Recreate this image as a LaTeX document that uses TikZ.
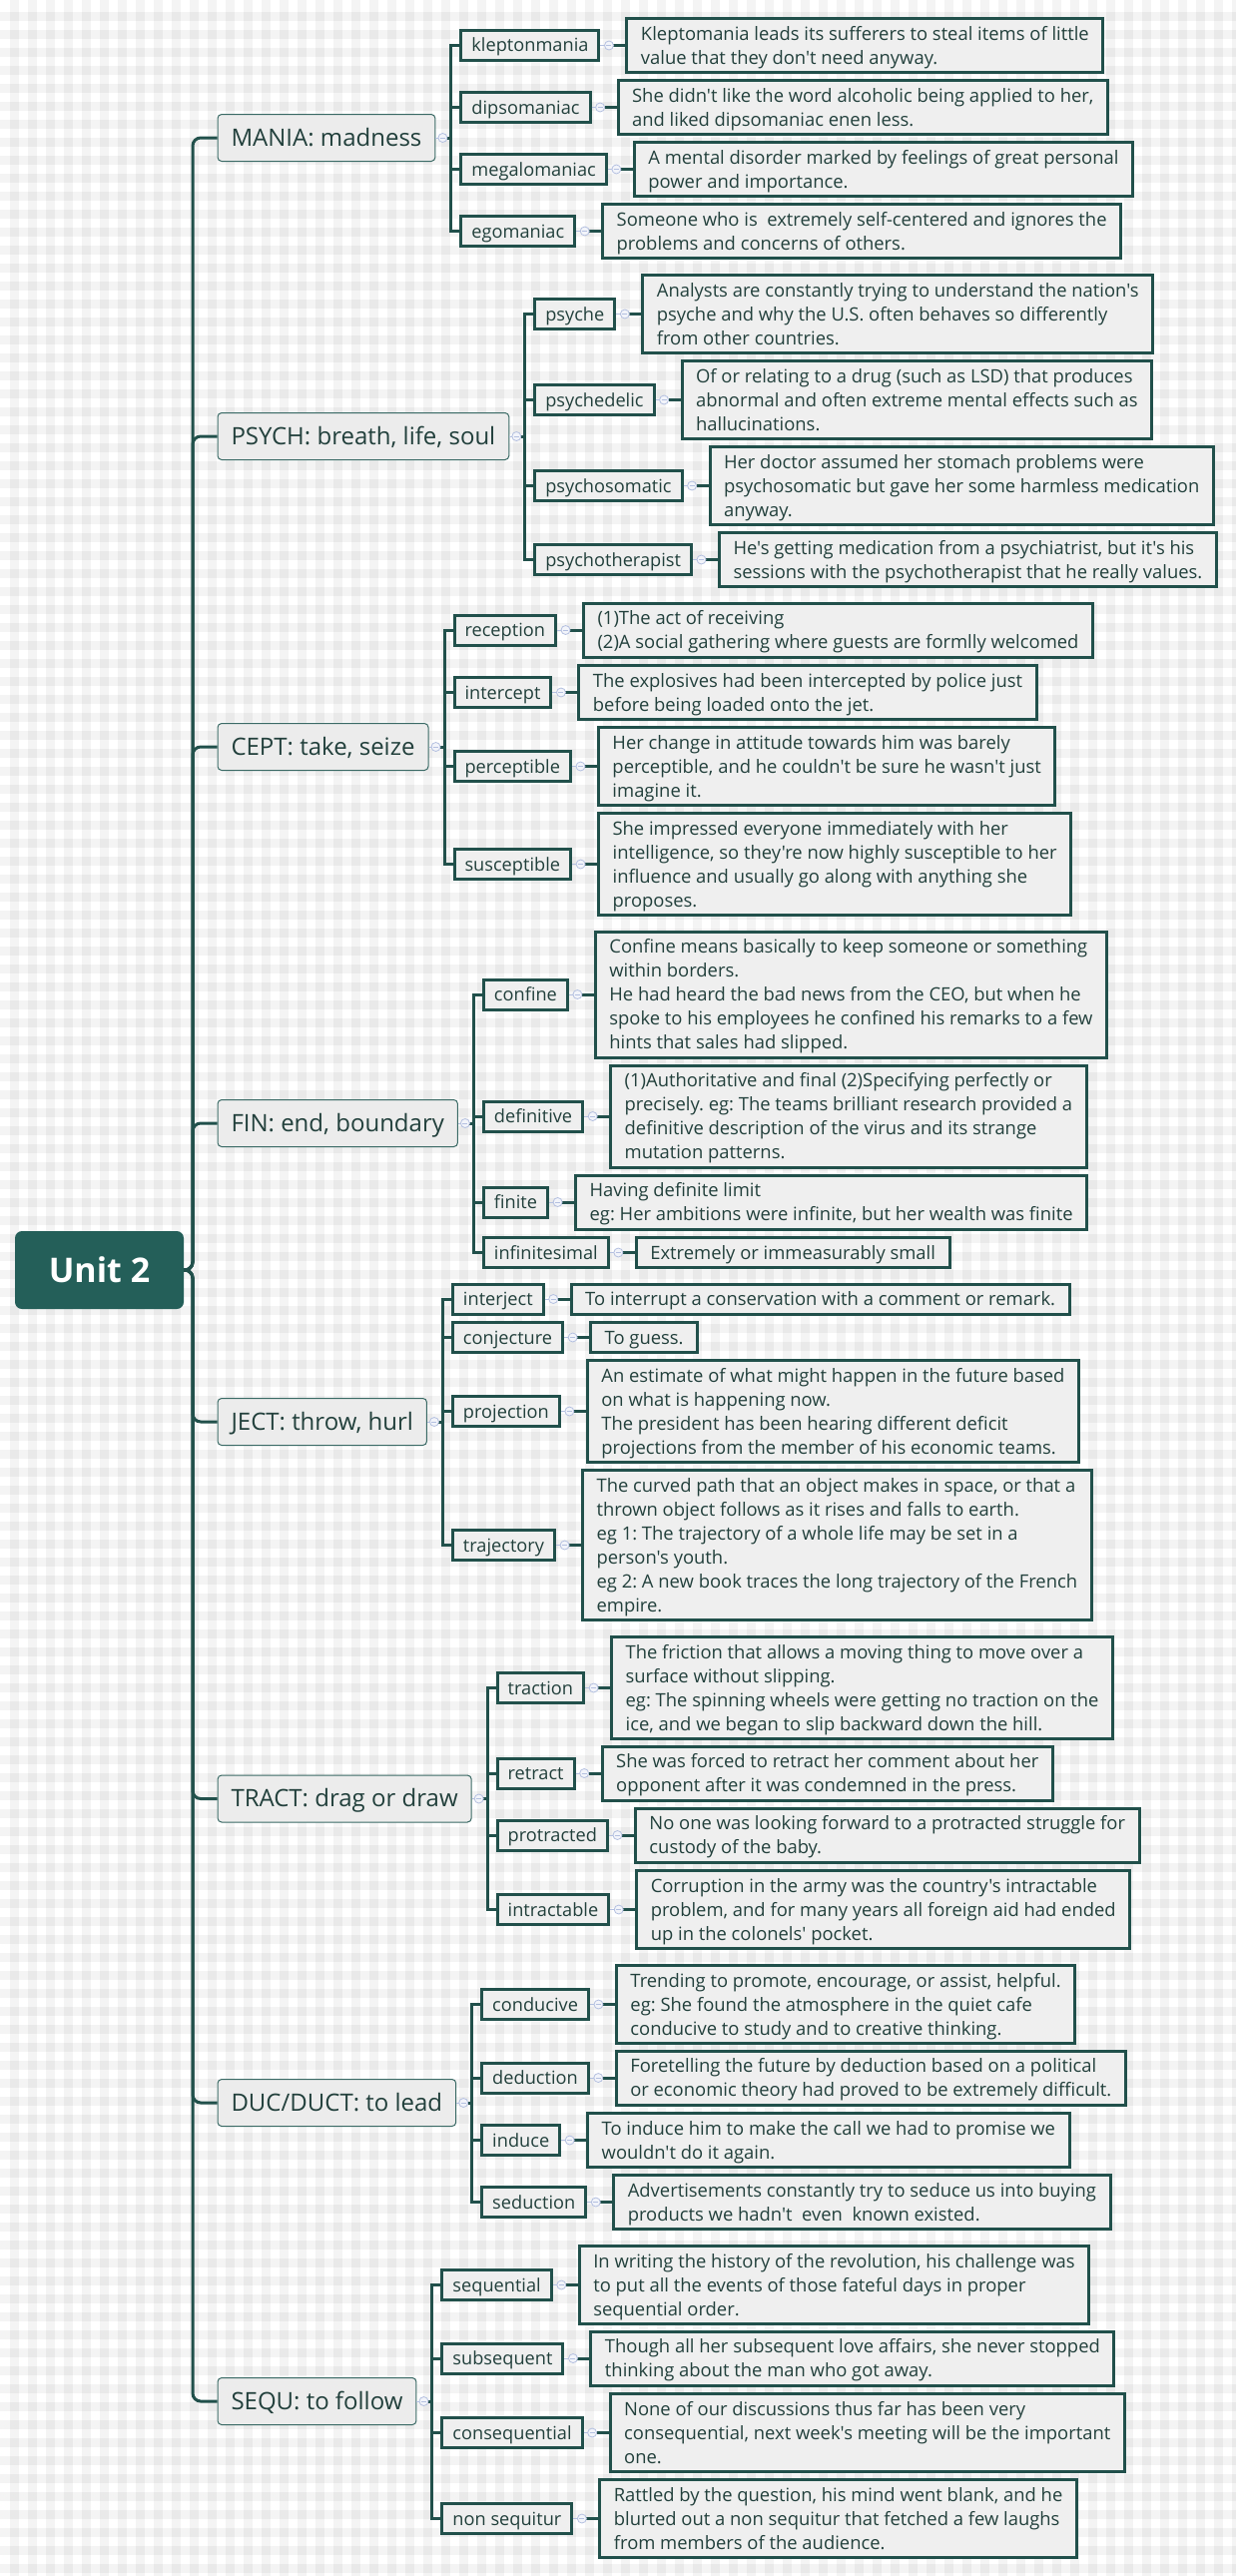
\documentclass[tikz,border=0pt]{standalone}
\usepackage{fontspec}
\setmainfont{Open Sans}[Ligatures=TeXOff]
\usetikzlibrary{calc,positioning}
\definecolor{ln}{HTML}{21504B}
\definecolor{rootc}{HTML}{245F59}
\definecolor{boxfill}{HTML}{EFEFEF}
\definecolor{mainfill}{HTML}{ECECEC}
\definecolor{mainborder}{HTML}{3A6A65}
\definecolor{txt}{HTML}{22403C}
\definecolor{mk}{HTML}{B4C0E0}
\definecolor{mkfill}{HTML}{F2F4FA}
\newcommand\ls{\rule[-5.5pt]{0pt}{24pt}}
\frenchspacing
\tikzset{
  rootbox/.style={rectangle, rounded corners=7pt, fill=rootc, text=white,
    font=\fontsize{34}{40}\selectfont\bfseries, minimum width=169pt, minimum height=78pt, inner sep=0pt},
  mainbox/.style={anchor=west, rectangle, rounded corners=4pt, fill=mainfill, draw=mainborder,
    line width=1pt, minimum height=47pt, inner xsep=13.5pt, inner ysep=0pt, text=txt,
    font=\fontsize{24}{28}\selectfont, text height=20pt, text depth=4pt},
  subbox/.style={anchor=west, rectangle, fill=boxfill, draw=ln, line width=3pt,
    inner xsep=10.5pt, inner ysep=3pt, text=txt, font=\fontsize{18.2}{24}\selectfont},
  defbox/.style={rectangle, fill=boxfill, draw=ln, line width=3pt, inner xsep=14pt,
    inner ysep=3pt, text=txt, font=\fontsize{18.4}{24}\selectfont, align=left},
  collapse/.style={circle, draw=mk, fill=mkfill, line width=0.8pt, minimum size=9pt, inner sep=0pt,
    path picture={\draw[mk, line width=0.8pt] ([xshift=-2.5pt]path picture bounding box.center) -- ([xshift=2.5pt]path picture bounding box.center);}},
  trunk/.style={draw=ln, line width=3pt, rounded corners=8pt},
  link/.style={draw=ln, line width=3pt},
  faint/.style={draw=mk, line width=0.8pt}
}
\begin{document}
\begin{tikzpicture}[x=1pt,y=-1pt]
\useasboundingbox (0,0) rectangle (1238,2580);
\fill[white] (0,0) rectangle (1238,2580);
\foreach \i in {0,...,68} \fill[black,fill opacity=0.045] ({10+18*\i},0) rectangle ++(9,2580);
\foreach \j in {0,...,142} \fill[black,fill opacity=0.045] (0,{12+18*\j}) rectangle ++(1238,9);

% root
\node[rootbox] (root) at (99.5,1272) {Unit 2};
\coordinate (T) at (193,1272);

% main topics
\node[mainbox] (m1) at (217.5,138) {MANIA: madness};
\node[mainbox] (m2) at (217.5,437) {PSYCH: breath, life, soul};
\node[mainbox] (m3) at (217.5,748) {CEPT: take, seize};
\node[mainbox] (m4) at (217.5,1125) {FIN: end, boundary};
\node[mainbox] (m5) at (217.5,1424) {JECT: throw, hurl};
\node[mainbox] (m6) at (217.5,1801.5) {TRACT: drag or draw};
\node[mainbox] (m7) at (217.5,2106) {DUC/DUCT: to lead};
\node[mainbox] (m8) at (217.5,2405) {SEQU: to follow};

\foreach \bi in {1,...,8}{
  \coordinate (v\bi) at ($(m\bi.east)+(15.5,0)$);
  \coordinate (w\bi) at ($(m\bi.east)+(24,0)$);
}

% MANIA
\node[subbox] (s11) at (w1 |- 0,45.5) {\ls kleptonmania};
\node[subbox] (s12) at (w1 |- 0,107.5) {\ls dipsomaniac};
\node[subbox] (s13) at (w1 |- 0,169.5) {\ls megalomaniac};
\node[subbox] (s14) at (w1 |- 0,231.5) {\ls egomaniac};
\node[defbox, right=25pt of s11] (d11) {\ls Kleptomania leads its sufferers to steal items of little\\\ls value that they don't need anyway.};
\node[defbox, right=25pt of s12] (d12) {\ls She didn't like the word alcoholic being applied to her,\\\ls and liked dipsomaniac enen less.};
\node[defbox, right=25pt of s13] (d13) {\ls A mental disorder marked by feelings of great personal\\\ls power and importance.};
\node[defbox, right=25pt of s14] (d14) {\ls Someone who is~ extremely self-centered and ignores the\\\ls problems and concerns of others.};

% PSYCH
\node[subbox] (s21) at (w2 |- 0,314.5) {\ls psyche};
\node[subbox] (s22) at (w2 |- 0,400.5) {\ls psychedelic};
\node[subbox] (s23) at (w2 |- 0,486.5) {\ls psychosomatic};
\node[subbox] (s24) at (w2 |- 0,560.5) {\ls psychotherapist};
\node[defbox, right=25pt of s21] (d21) {\ls Analysts are constantly trying to understand the nation's\\\ls psyche and why the U.S. often behaves so differently\\\ls from other countries.};
\node[defbox, right=25pt of s22] (d22) {\ls Of or relating to a drug (such as LSD) that produces\\\ls abnormal and often extreme mental effects such as\\\ls hallucinations.};
\node[defbox, right=25pt of s23] (d23) {\ls Her doctor assumed her stomach problems were\\\ls psychosomatic but gave her some harmless medication\\\ls anyway.};
\node[defbox, right=25pt of s24] (d24) {\ls He's getting medication from a psychiatrist, but it's his\\\ls sessions with the psychotherapist that he really values.};

% CEPT
\node[subbox] (s31) at (w3 |- 0,631) {\ls reception};
\node[subbox] (s32) at (w3 |- 0,693.5) {\ls intercept};
\node[subbox] (s33) at (w3 |- 0,767.5) {\ls perceptible};
\node[subbox] (s34) at (w3 |- 0,865.5) {\ls susceptible};
\node[defbox, right=25pt of s31] (d31) {\ls (1)The act of receiving\\\ls (2)A social gathering where guests are formlly welcomed};
\node[defbox, right=25pt of s32] (d32) {\ls The explosives had been intercepted by police just\\\ls before being loaded onto the jet.};
\node[defbox, right=25pt of s33] (d33) {\ls Her change in attitude towards him was barely\\\ls perceptible, and he couldn't be sure he wasn't just\\\ls imagine it.};
\node[defbox, right=25pt of s34] (d34) {\ls She impressed everyone immediately with her\\\ls intelligence, so they're now highly susceptible to her\\\ls influence and usually go along with anything she\\\ls proposes.};

% FIN
\node[subbox] (s41) at (w4 |- 0,996) {\ls confine};
\node[subbox] (s42) at (w4 |- 0,1118) {\ls definitive};
\node[subbox] (s43) at (w4 |- 0,1204) {\ls finite};
\node[subbox] (s44) at (w4 |- 0,1254.5) {\ls infinitesimal};
\node[defbox, right=25pt of s41] (d41) {\ls Confine means basically to keep someone or something\\\ls within borders.\\\ls He had heard the bad news from the CEO, but when he\\\ls spoke to his employees he confined his remarks to a few\\\ls hints that sales had slipped.};
\node[defbox, right=25pt of s42] (d42) {\ls (1)Authoritative and final (2)Specifying perfectly or\\\ls precisely. eg: The teams brilliant research provided a\\\ls definitive description of the virus and its strange\\\ls mutation patterns.};
\node[defbox, right=25pt of s43] (d43) {\ls Having definite limit\\\ls eg: Her ambitions were infinite, but her wealth was finite};
\node[defbox, right=25pt of s44] (d44) {\ls Extremely or immeasurably small};

% JECT
\node[subbox] (s51) at (w5 |- 0,1301) {\ls interject};
\node[subbox] (s52) at (w5 |- 0,1339.5) {\ls conjecture};
\node[subbox] (s53) at (w5 |- 0,1413.5) {\ls projection};
\node[subbox] (s54) at (w5 |- 0,1547.5) {\ls trajectory};
\node[defbox, right=25pt of s51] (d51) {\ls To interrupt a conservation with a comment or remark.};
\node[defbox, right=25pt of s52] (d52) {\ls To guess.};
\node[defbox, right=25pt of s53] (d53) {\ls An estimate of what might happen in the future based\\\ls on what is happening now.\\\ls The president has been hearing different deficit\\\ls projections from the member of his economic teams.};
\node[defbox, right=25pt of s54] (d54) {\ls The curved path that an object makes in space, or that a\\\ls thrown object follows as it rises and falls to earth.\\\ls eg 1: The trajectory of a whole life may be set in a\\\ls person's youth.\\\ls eg 2: A new book traces the long trajectory of the French\\\ls empire.};

% TRACT
\node[subbox] (s61) at (w6 |- 0,1690.5) {\ls traction};
\node[subbox] (s62) at (w6 |- 0,1776) {\ls retract};
\node[subbox] (s63) at (w6 |- 0,1838) {\ls protracted};
\node[subbox] (s64) at (w6 |- 0,1912.5) {\ls intractable};
\node[defbox, right=25pt of s61] (d61) {\ls The friction that allows a moving thing to move over a\\\ls surface without slipping.\\\ls eg: The spinning wheels were getting no traction on the\\\ls ice, and we began to slip backward down the hill.};
\node[defbox, right=25pt of s62] (d62) {\ls She was forced to retract her comment about her\\\ls opponent after it was condemned in the press.};
\node[defbox, right=25pt of s63] (d63) {\ls No one was looking forward to a protracted struggle for\\\ls custody of the baby.};
\node[defbox, right=25pt of s64] (d64) {\ls Corruption in the army was the country's intractable\\\ls problem, and for many years all foreign aid had ended\\\ls up in the colonels' pocket.};

% DUC
\node[subbox] (s71) at (w7 |- 0,2007.5) {\ls conducive};
\node[subbox] (s72) at (w7 |- 0,2081) {\ls deduction};
\node[subbox] (s73) at (w7 |- 0,2143.5) {\ls induce};
\node[subbox] (s74) at (w7 |- 0,2205.5) {\ls seduction};
\node[defbox, right=25pt of s71] (d71) {\ls Trending to promote, encourage, or assist, helpful.\\\ls eg: She found the atmosphere in the quiet cafe\\\ls conducive to study and to creative thinking.};
\node[defbox, right=25pt of s72] (d72) {\ls Foretelling the future by deduction based on a political\\\ls or economic theory had proved to be extremely difficult.};
\node[defbox, right=25pt of s73] (d73) {\ls To induce him to make the call we had to promise we\\\ls wouldn't do it again.};
\node[defbox, right=25pt of s74] (d74) {\ls Advertisements constantly try to seduce us into buying\\\ls products we hadn't~ even~ known existed.};

% SEQU
\node[subbox] (s81) at (w8 |- 0,2288.5) {\ls sequential};
\node[subbox] (s82) at (w8 |- 0,2362) {\ls subsequent};
\node[subbox] (s83) at (w8 |- 0,2436.5) {\ls consequential};
\node[subbox] (s84) at (w8 |- 0,2522.5) {\ls non sequitur};
\node[defbox, right=25pt of s81] (d81) {\ls In writing the history of the revolution, his challenge was\\\ls to put all the events of those fateful days in proper\\\ls sequential order.};
\node[defbox, right=25pt of s82] (d82) {\ls Though all her subsequent love affairs, she never stopped\\\ls thinking about the man who got away.};
\node[defbox, right=25pt of s83] (d83) {\ls None of our discussions thus far has been very\\\ls consequential, next week's meeting will be the important\\\ls one.};
\node[defbox, right=25pt of s84] (d84) {\ls Rattled by the question, his mind went blank, and he\\\ls blurted out a non sequitur that fetched a few laughs\\\ls from members of the audience.};

% trunk connectors
\foreach \bi in {1,...,8}
  \draw[trunk] (root.east) -- (T) -- (T |- m\bi.west) -- (m\bi.west);

% branch connectors
\foreach \bi in {1,...,8}{
  \draw[faint] (m\bi.east) -- ++(7,0);
  \draw[link] ($(m\bi.east)+(11.5,0)$) -- (v\bi |- m\bi.east);
  \draw[link, line cap=rect] (v\bi |- s\bi1.west) -- (v\bi |- s\bi4.west);
  \node[collapse] at ($(m\bi.east)+(7,0)$) {};
  \foreach \ki in {1,...,4}{
    \draw[link] (v\bi |- s\bi\ki.west) -- (s\bi\ki.west);
    \draw[faint] (s\bi\ki.east) -- ++(8.5,0);
    \draw[link] ($(s\bi\ki.east)+(13,0)$) -- (d\bi\ki.west);
    \node[collapse] at ($(s\bi\ki.east)+(8.5,0)$) {};
  }
}
\end{tikzpicture}
\end{document}
